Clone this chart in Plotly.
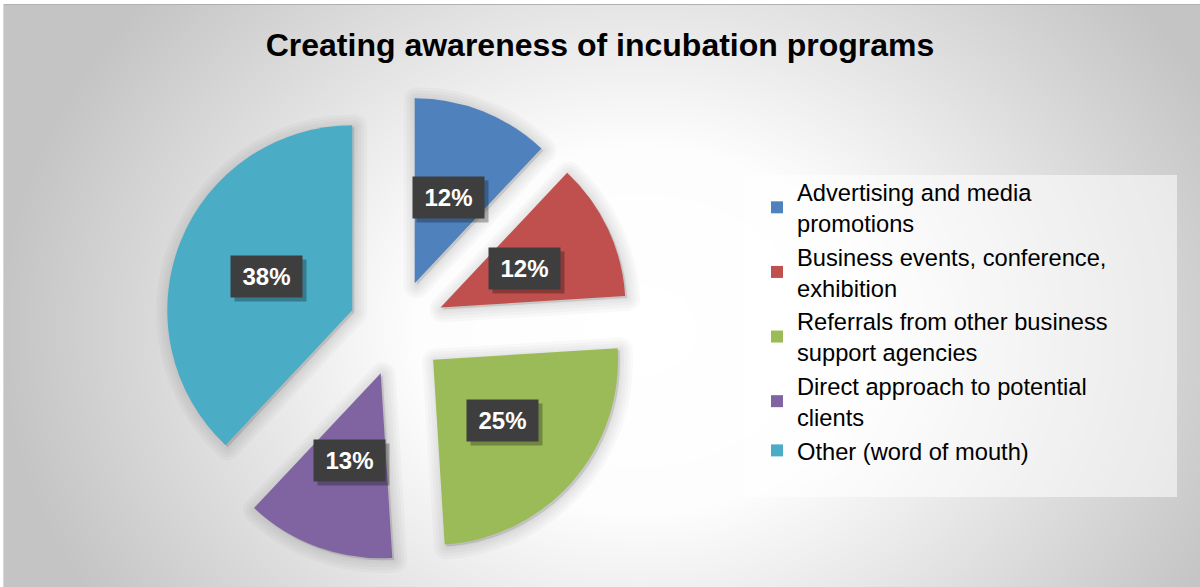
import math
import numpy as np
import plotly.graph_objects as go

# ---- data ----
categories = [
    "Advertising and media<br>promotions",
    "Business events, conference,<br>exhibition",
    "Referrals from other business<br>support agencies",
    "Direct approach to potential<br>clients",
    "Other (word of mouth)",
]
shares = [12, 12, 25, 13, 38]
value_labels = ["12%", "12%", "25%", "13%", "38%"]
slice_colors = ["#4F81BD", "#C0504D", "#9BBB59", "#8064A2", "#4BACC6"]

# ---- canvas / pie geometry (pixels) ----
W, H = 1200, 587
PIE_CX, PIE_CY = 397, 328
PIE_R = 185
PULL = 0.26
half = PIE_R * (1 + PULL)


def pie_domain(dx=0.0, dy=0.0):
    return dict(
        x=[(PIE_CX + dx - half) / W, (PIE_CX + dx + half) / W],
        y=[1 - (PIE_CY + dy + half) / H, 1 - (PIE_CY + dy - half) / H],
    )


fig = go.Figure()

# radial grey-to-white backdrop
gx = np.linspace(0, W, 121)
gy = np.linspace(0, H, 60)
XX, YY = np.meshgrid(gx, gy)
dist = np.sqrt(((XX - 640) / 640) ** 2 + ((YY - 330) / 520) ** 2)
dist = np.clip(dist, 0, 1)
fig.add_trace(go.Heatmap(
    x=gx, y=gy, z=dist, zmin=0, zmax=1, zsmooth="best",
    colorscale=[[0, "#ffffff"], [0.35, "#fdfdfd"], [1, "#c4c4c4"]],
    showscale=False, hoverinfo="skip",
))

# soft drop shadow under the slices
for lw in (26, 20, 14, 8, 3):
    fig.add_trace(go.Pie(
        labels=categories, values=shares, sort=False, direction="clockwise",
        rotation=0, pull=[PULL] * len(shares), domain=pie_domain(2, 2),
        marker=dict(colors=["rgba(0,0,0,0.022)"] * len(shares),
                    line=dict(color="rgba(0,0,0,0.022)", width=lw)),
        textinfo="none", hoverinfo="skip", showlegend=False,
    ))

# main pie
fig.add_trace(go.Pie(
    labels=categories, values=shares, sort=False, direction="clockwise",
    rotation=0, pull=[PULL] * len(shares), domain=pie_domain(),
    marker=dict(colors=slice_colors, line=dict(width=0)),
    textinfo="none", hovertemplate="%{label}: %{value}%<extra></extra>",
))

# value callouts placed on each slice's bisector
annotations = []
total = sum(shares)
cum = 0
for v, txt in zip(shares, value_labels):
    mid = 2 * math.pi * (cum + v / 2) / total
    cum += v
    dist_c = PULL * PIE_R + 0.5 * PIE_R
    px = PIE_CX + dist_c * math.sin(mid)
    py = PIE_CY - dist_c * math.cos(mid)
    common = dict(x=px / W, y=1 - py / H, xref="paper", yref="paper",
                  showarrow=False, width=61, height=31, borderpad=5,
                  xanchor="center", yanchor="middle")
    # box shadow
    annotations.append(dict(text=" ", bgcolor="rgba(0,0,0,0.28)",
                            font=dict(size=24), xshift=4, yshift=-4, **common))
    annotations.append(dict(text=txt, bgcolor="#3e3e3e",
                            font=dict(color="white", size=24,
                                      family="Liberation Sans", weight="bold"),
                            **common))

shapes = [
    # legend panel
    dict(type="rect", xref="paper", yref="paper",
         x0=744 / W, x1=1177 / W, y0=1 - 497 / H, y1=1 - 175 / H,
         fillcolor="rgba(255,255,255,0.55)", line=dict(width=0), layer="above"),
    # outer frame edge
    dict(type="rect", xref="paper", yref="paper", x0=0, x1=1, y0=1 - 4 / H, y1=1,
         fillcolor="white", line=dict(width=0), layer="above"),
    dict(type="rect", xref="paper", yref="paper", x0=0, x1=3 / W, y0=0, y1=1,
         fillcolor="white", line=dict(width=0), layer="above"),
    dict(type="line", xref="paper", yref="paper", x0=3 / W, x1=1, y0=1 - 4.5 / H,
         y1=1 - 4.5 / H, line=dict(color="#b0b0b0", width=1), layer="above"),
    dict(type="line", xref="paper", yref="paper", x0=3.5 / W, x1=3.5 / W, y0=0,
         y1=1 - 4 / H, line=dict(color="#d8d8d8", width=1), layer="above"),
]

fig.update_layout(
    width=W, height=H,
    margin=dict(l=0, r=0, t=0, b=0),
    paper_bgcolor="white", plot_bgcolor="white",
    title=dict(text="Creating awareness of incubation programs",
               x=0.5, xanchor="center", y=1 - 45 / H, yanchor="middle",
               font=dict(family="Liberation Sans", size=32, color="black",
                         weight="bold")),
    xaxis=dict(visible=False, range=[0, W], domain=[0, 1], fixedrange=True),
    yaxis=dict(visible=False, range=[H, 0], domain=[0, 1], fixedrange=True),
    legend=dict(x=757 / W, y=1 - 170 / H, xanchor="left", yanchor="top",
                bgcolor="rgba(0,0,0,0)", borderwidth=0,
                font=dict(family="Liberation Sans", size=23.7, color="black"),
                traceorder="normal"),
    annotations=annotations,
    shapes=shapes,
)

fig.write_html("out.html")
